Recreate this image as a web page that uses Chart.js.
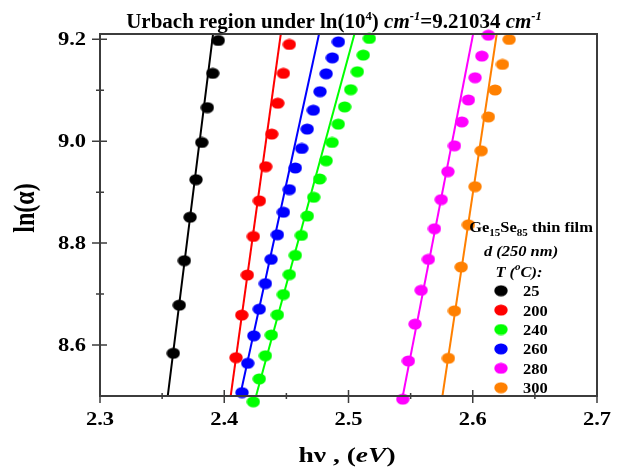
<!DOCTYPE html>
<html>
<head>
<meta charset="utf-8">
<script src="https://cdn.jsdelivr.net/npm/chart.js@4.4.1/dist/chart.umd.min.js"></script>
<style>
  html, body { margin: 0; padding: 0; background: #fff; }
  #wrap { width: 619px; height: 468px; }
</style>
</head>
<body>
<div id="wrap"><canvas id="urbach"></canvas></div>
<script>
// Urbach plot: ln(alpha) vs photon energy for Ge15Se85 films
const temps = ['25', '200', '240', '260', '280', '300'];
const colors = ['#000000', '#ff0000', '#00ff00', '#0000ff', '#ff00ff', '#ff8000'];

const hv25 = [2.3590, 2.3638, 2.3679, 2.3725, 2.3773, 2.3819, 2.3864, 2.3907, 2.3952];
const ln25 = [8.5838, 8.6782, 8.7656, 8.8508, 8.9245, 8.9975, 9.0659, 9.1331, 9.1977];

const hv200 = [2.4095, 2.4141, 2.4186, 2.4234, 2.4283, 2.4334, 2.4382, 2.4431, 2.4476, 2.4524];
const ln200 = [8.5752, 8.6587, 8.7374, 8.8131, 8.8829, 8.9500, 9.0139, 9.0745, 9.1331, 9.1898];

const hv240 = [2.4234, 2.4282, 2.4331, 2.4379, 2.4428, 2.4476, 2.4524, 2.4572, 2.4621, 2.4669,
               2.4720, 2.4768, 2.4820, 2.4868, 2.4918, 2.4969, 2.5018, 2.5071, 2.5119, 2.5168];
const ln240 = [8.4886, 8.5335, 8.5791, 8.6196, 8.6592, 8.6991, 8.7382, 8.7760, 8.8151, 8.8532,
               8.8899, 8.9259, 8.9617, 8.9975, 9.0334, 9.0673, 9.1011, 9.1363, 9.1689, 9.2016];

const hv260 = [2.4143, 2.4189, 2.4238, 2.4282, 2.4331, 2.4377, 2.4428, 2.4476, 2.4524,
               2.4572, 2.4624, 2.4668, 2.4717, 2.4771, 2.4820, 2.4870, 2.4919];
const ln260 = [8.5067, 8.5642, 8.6182, 8.6704, 8.7206, 8.7681, 8.8164, 8.8606, 8.9050,
               8.9474, 8.9857, 9.0237, 9.0608, 9.0972, 9.1323, 9.1636, 9.1949];

const hv280 = [2.5437, 2.5482, 2.5536, 2.5585, 2.5643, 2.5692, 2.5746, 2.5800, 2.5853,
               2.5912, 2.5965, 2.6019, 2.6073, 2.6126];
const ln280 = [8.4938, 8.5687, 8.6411, 8.7075, 8.7681, 8.8282, 8.8854, 8.9402, 8.9910,
               9.0379, 9.0809, 9.1245, 9.1670, 9.2080];

const hv300 = [2.5804, 2.5853, 2.5907, 2.5965, 2.6019, 2.6068, 2.6126, 2.6180, 2.6239, 2.6293];
const ln300 = [8.5740, 8.6671, 8.7531, 8.8360, 8.9108, 8.9812, 9.0477, 9.1005, 9.1507, 9.1996];

// linear fits: hv at bottom and top of the y range
const fitY = [8.5, 9.21034];
const fitX25 = [2.3545, 2.3910];
const fitX200 = [2.4052, 2.4455];
const fitX240 = [2.4256, 2.5048];
const fitX260 = [2.4127, 2.4763];
const fitX280 = [2.5437, 2.6003];
const fitX300 = [2.5756, 2.6193];

const xMajor = [2.3, 2.4, 2.5, 2.6, 2.7];
const xMinor = [2.35, 2.45, 2.55, 2.65];
const yMajor = [8.6, 8.8, 9.0, 9.2];
const yMinor = [8.7, 8.9, 9.1];

const hvSets = [hv25, hv200, hv240, hv260, hv280, hv300];
const lnSets = [ln25, ln200, ln240, ln260, ln280, ln300];
const fitSets = [fitX25, fitX200, fitX240, fitX260, fitX280, fitX300];

const SX = 1.25; // the original figure is stretched sideways
const SERIF = '"Liberation Serif", "Times New Roman", serif';

function dotImage(color) {
  const c = document.createElement('canvas');
  c.width = 14; c.height = 12;
  const g = c.getContext('2d');
  g.fillStyle = color;
  g.beginPath();
  g.ellipse(7, 6, 6.7, 5.6, 0, 0, Math.PI * 2);
  g.fill();
  return c;
}
const dots = colors.map(dotImage);

const zip = (xs, ys) => xs.map((x, i) => ({ x: x, y: ys[i] }));

const datasets = [];
temps.forEach((t, i) => {
  datasets.push({
    label: t,
    data: zip(hvSets[i], lnSets[i]),
    showLine: false,
    pointStyle: dots[i],
    pointRadius: 6,
    backgroundColor: colors[i],
    borderColor: colors[i],
    clip: false,
    order: 1
  });
  datasets.push({
    label: t + ' fit',
    data: zip(fitSets[i], fitY),
    showLine: true,
    pointRadius: 0,
    borderWidth: 2,
    borderColor: colors[i],
    fill: false,
    order: 2
  });
});

function richWidth(ctx, segs) {
  let w = 0;
  segs.forEach(s => { ctx.font = s.font; w += ctx.measureText(s.t).width; });
  return w;
}
function drawRich(ctx, segs, x, y, align, sx) {
  ctx.save();
  ctx.translate(x, y);
  ctx.scale(sx, 1);
  const w = richWidth(ctx, segs);
  let cx = align === 'center' ? -w / 2 : (align === 'right' ? -w : 0);
  segs.forEach(s => {
    ctx.font = s.font;
    ctx.fillText(s.t, cx, s.dy || 0);
    cx += ctx.measureText(s.t).width;
  });
  ctx.restore();
}
const B = (px) => 'bold ' + px + 'px ' + SERIF;
const BI = (px) => 'italic bold ' + px + 'px ' + SERIF;

const decorations = {
  id: 'decorations',
  afterDraw(chart) {
    const ctx = chart.ctx;
    const a = chart.chartArea;
    const xs = chart.scales.x, ys = chart.scales.y;
    ctx.save();
    // frame
    ctx.strokeStyle = '#3c3c3c';
    ctx.lineWidth = 2;
    ctx.strokeRect(a.left, a.top, a.right - a.left, a.bottom - a.top);
    // ticks crossing the axes
    ctx.lineWidth = 1.5;
    ctx.beginPath();
    xMajor.forEach(v => { const p = xs.getPixelForValue(v); ctx.moveTo(p, a.bottom - 6); ctx.lineTo(p, a.bottom + 7); });
    xMinor.forEach(v => { const p = xs.getPixelForValue(v); ctx.moveTo(p, a.bottom - 3); ctx.lineTo(p, a.bottom + 3); });
    yMajor.forEach(v => { const p = ys.getPixelForValue(v); ctx.moveTo(a.left - 8, p); ctx.lineTo(a.left + 7, p); });
    yMinor.forEach(v => { const p = ys.getPixelForValue(v); ctx.moveTo(a.left - 4, p); ctx.lineTo(a.left + 4, p); });
    ctx.stroke();

    ctx.fillStyle = '#000';
    ctx.textBaseline = 'alphabetic';
    ctx.textAlign = 'left';
    // tick labels
    xMajor.forEach(v => drawRich(ctx, [{ t: v.toFixed(1), font: B(18) }], xs.getPixelForValue(v), 425, 'center', SX));
    yMajor.forEach(v => drawRich(ctx, [{ t: v.toFixed(1), font: B(18) }], 86, ys.getPixelForValue(v) + 6, 'right', SX));

    // title
    drawRich(ctx, [
      { t: 'Urbach region under ln(10', font: B(20) },
      { t: '4', font: B(12), dy: -8 },
      { t: ') ', font: B(20) },
      { t: 'cm', font: BI(20) },
      { t: '-1', font: BI(12), dy: -8 },
      { t: '=9.21034 ', font: B(20) },
      { t: 'cm', font: BI(20) },
      { t: '-1', font: BI(12), dy: -8 }
    ], 334, 28, 'center', 1.05);

    // axis titles
    drawRich(ctx, [
      { t: 'h\u03bd , (', font: B(22) },
      { t: 'eV', font: BI(22) },
      { t: ')', font: B(22) }
    ], 347, 462, 'center', SX);
    ctx.save();
    ctx.translate(34, 208);
    ctx.rotate(-Math.PI / 2);
    ctx.scale(1, SX);
    ctx.font = B(24);
    ctx.textAlign = 'center';
    ctx.fillText('ln(\u03b1)', 0, 0);
    ctx.restore();

    // legend
    const LX = 1.1;
    drawRich(ctx, [
      { t: 'Ge', font: B(15) },
      { t: '15', font: B(10), dy: 4 },
      { t: 'Se', font: B(15) },
      { t: '85', font: B(10), dy: 4 },
      { t: ' thin film', font: B(15) }
    ], 531, 232, 'center', LX);
    drawRich(ctx, [{ t: 'd (250 nm)', font: BI(15) }], 521, 256, 'center', LX);
    drawRich(ctx, [
      { t: 'T (', font: BI(15) },
      { t: 'o', font: BI(10), dy: -7 },
      { t: 'C):', font: BI(15) }
    ], 519, 277, 'center', LX);
    temps.forEach((t, i) => {
      const y = 290.7 + i * 19.4;
      ctx.drawImage(dots[i], 494, y - 6);
      drawRich(ctx, [{ t: t, font: B(15) }], 523, y + 5.5, 'left', LX);
    });
    ctx.restore();
  }
};

new Chart('urbach', {
  type: 'scatter',
  data: { datasets: datasets },
  options: {
    responsive: true,
    maintainAspectRatio: false,
    animation: false,
    events: [],
    layout: { padding: { top: 34, right: 22, left: 0, bottom: 0 } },
    plugins: {
      legend: { display: false },
      title: { display: false },
      tooltip: { enabled: false }
    },
    scales: {
      x: {
        type: 'linear',
        min: 2.3,
        max: 2.7,
        grid: { display: false },
        border: { display: false },
        ticks: { display: false },
        afterFit(scale) { scale.height = 72; }
      },
      y: {
        type: 'linear',
        min: 8.5,
        max: 9.21034,
        grid: { display: false },
        border: { display: false },
        ticks: { display: false },
        afterFit(scale) { scale.width = 100; }
      }
    }
  },
  plugins: [decorations]
});
</script>
</body>
</html>
